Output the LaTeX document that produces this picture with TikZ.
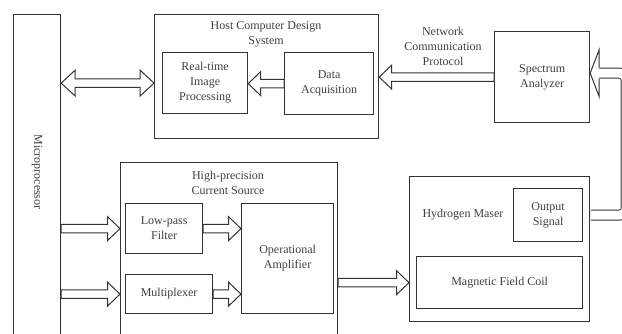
\documentclass[tikz,border=0pt]{standalone}
\usepackage{fontspec}
\setmainfont{Liberation Serif}
\usetikzlibrary{calc}
\definecolor{linegray}{HTML}{333333}
\definecolor{textgray}{HTML}{404040}
\newcommand{\shaftw}{4.25pt}
\newcommand{\headw}{12pt}
\newcommand{\headl}{12.5pt}

\begin{document}
\begin{tikzpicture}[
    x=1pt, y=-1pt,
    every node/.style={font=\fontsize{12}{15}\selectfont, text=textgray},
    box/.style={draw=linegray, line width=1.2pt, inner sep=0pt, align=center, anchor=north west},
    title/.style={align=center, inner sep=0pt},
    hollow/.style={draw=linegray, fill=white, line width=1pt, line join=miter,
        to path={($(\tikztostart)!\shaftw!90:(\tikztotarget)$)
            -- ($(\tikztotarget)!\headl!(\tikztostart)!\shaftw!-90:(\tikztostart)$)
            -- ($(\tikztotarget)!\headl!(\tikztostart)!\headw!-90:(\tikztostart)$)
            -- (\tikztotarget)
            -- ($(\tikztotarget)!\headl!(\tikztostart)!\headw!90:(\tikztostart)$)
            -- ($(\tikztotarget)!\headl!(\tikztostart)!\shaftw!90:(\tikztostart)$)
            -- ($(\tikztostart)!\shaftw!-90:(\tikztotarget)$) -- cycle}},
    hollowboth/.style={draw=linegray, fill=white, line width=1pt, line join=miter,
        to path={(\tikztostart)
            -- ($(\tikztostart)!14pt!(\tikztotarget)!13pt!90:(\tikztotarget)$)
            -- ($(\tikztostart)!14pt!(\tikztotarget)!\shaftw!90:(\tikztotarget)$)
            -- ($(\tikztotarget)!14pt!(\tikztostart)!\shaftw!-90:(\tikztostart)$)
            -- ($(\tikztotarget)!14pt!(\tikztostart)!13pt!-90:(\tikztostart)$)
            -- (\tikztotarget)
            -- ($(\tikztotarget)!14pt!(\tikztostart)!13pt!90:(\tikztostart)$)
            -- ($(\tikztotarget)!14pt!(\tikztostart)!\shaftw!90:(\tikztostart)$)
            -- ($(\tikztostart)!14pt!(\tikztotarget)!\shaftw!-90:(\tikztotarget)$)
            -- ($(\tikztostart)!14pt!(\tikztotarget)!13pt!-90:(\tikztotarget)$) -- cycle}},
    loopline/.style={draw=linegray, double=white, double distance=9pt, line width=1pt, rounded corners=7pt},
    loophead/.style={draw=linegray, fill=white, line width=1pt, line join=miter,
        to path={($(\tikztostart)!5.5pt!90:(\tikztotarget)$)
            -- ($(\tikztostart)!23.5pt!90:(\tikztotarget)$)
            -- (\tikztotarget)
            -- ($(\tikztostart)!23.5pt!-90:(\tikztotarget)$)
            -- ($(\tikztostart)!5.5pt!-90:(\tikztotarget)$)}}
]
\useasboundingbox (0,0) rectangle (622,333);

% left column
\node[box, minimum width=47pt, minimum height=335pt] (micro) at (13,14) {};
\node[title, rotate=-90] (microtext) at (37,172) {Microprocessor};

% host computer
\node[box, minimum width=224pt, minimum height=124pt] (host) at (154,14) {};
\node[title] (hosttitle) at (266,34.5) {Host Computer Design\\System};
\node[box, minimum width=85pt, minimum height=61pt] (rtip) at (162,52) {Real-time\\Image\\Processing};
\node[box, minimum width=89pt, minimum height=62pt] (daq) at (284,52) {Data\\Acquisition};
\node[title] (netproto) at (443,46.5) {Network\\Communication\\Protocol};
\node[box, minimum width=95pt, minimum height=91pt] (spec) at (494,31) {Spectrum\\Analyzer};

% current source
\node[box, minimum width=217pt, minimum height=183pt] (csrc) at (120,162) {};
\node[title] (csrctitle) at (228,183) {High-precision\\Current Source};
\node[box, minimum width=77pt, minimum height=50pt] (lpf) at (125,203) {Low-pass\\Filter};
\node[box, minimum width=87pt, minimum height=39pt] (mux) at (125,274) {Multiplexer};
\node[box, minimum width=92pt, minimum height=110pt] (opamp) at (241,203) {Operational\\Amplifier};

% maser
\node[box, minimum width=180pt, minimum height=145pt] (maser) at (409,176) {};
\node[title] (masertext) at (463,215) {Hydrogen Maser};
\node[box, minimum width=69pt, minimum height=53pt] (outsig) at (513,188) {Output\\Signal};
\node[box, minimum width=166pt, minimum height=52pt] (coil) at (416,256) {Magnetic Field Coil};

% block arrows
\draw[hollowboth] (micro.east |- rtip.east) to (host.west |- rtip.east);
\draw[hollow] (daq.west) to (rtip.east |- daq.west);
\draw[hollow] (spec.west) to (host.east |- spec.west);
\draw[hollow] (micro.east |- lpf.west) to (csrc.west |- lpf.west);
\draw[hollow] (micro.east |- mux.west) to (csrc.west |- mux.west);
\draw[hollow] (lpf.east) to (opamp.west |- lpf.east);
\draw[hollow] (mux.east) to (opamp.west |- mux.east);
\draw[hollow] (csrc.east |- coil.west) to (maser.west |- coil.west);

% feedback loop
\coordinate (loopout) at ([xshift=0.6pt]maser.east |- outsig.east);
\coordinate (looptip) at ([yshift=4pt]spec.east);
\draw[loopline] (loopout) -| ([xshift=36pt]looptip) -- ([xshift=9pt]looptip);
\draw[loophead] ([xshift=9pt]looptip) to (looptip);
\end{tikzpicture}
\end{document}
